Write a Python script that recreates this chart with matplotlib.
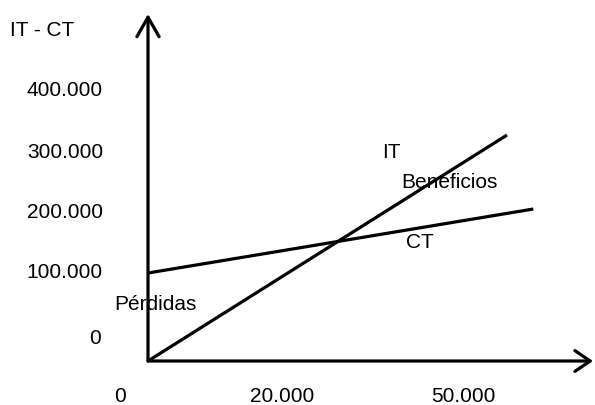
import matplotlib.pyplot as plt

plt.rcParams['font.family'] = ['Liberation Sans', 'DejaVu Sans']

# quantities and values (IT = ingresos totales, CT = costes totales)
q_it = [0, 56100]
it = [0, 256800]
q_ct = [0, 60200]
ct = [100000, 172700]

y_labels = ['0', '100.000', '200.000', '300.000', '400.000']
x_labels = ['0', '20.000', '50.000']

# pixel-ish placement of the hand drawn labels (figure fractions)
W, H = 595, 405
def fpos(px, py):
    return px / W, 1 - py / H

fig = plt.figure(figsize=(5.95, 4.05), dpi=100)
ax = fig.add_axes([0, 0, 1, 1])
ax.set_xlim(-23125, 69843.75)
ax.set_ylim(-50000, 410227)
ax.axis('off')

lw = 2.3
# axes with open arrow heads
ax.annotate('', xy=(0, 394318), xytext=(0, 0),
            arrowprops=dict(arrowstyle='->,head_length=1.4,head_width=0.8',
                            lw=lw, color='black', shrinkA=0, shrinkB=0))
ax.annotate('', xy=(69531, 0), xytext=(0, 0),
            arrowprops=dict(arrowstyle='->,head_length=1.1,head_width=0.75',
                            lw=lw, color='black', shrinkA=0, shrinkB=0))

ax.plot(q_it, it, color='black', lw=lw, solid_capstyle='butt')
ax.plot(q_ct, ct, color='black', lw=lw, solid_capstyle='butt')

fs = 15
ylab_y = [338, 272, 213, 152, 91]
for lab, py in zip(y_labels, ylab_y):
    if lab == '0':
        fig.text(*fpos(95, py), lab, fontsize=fs, ha='center', va='center')
    else:
        fig.text(*fpos(103, py), lab, fontsize=fs, ha='right', va='center')

xlab_x = [120, 282, 463]
for lab, px in zip(x_labels, xlab_x):
    fig.text(*fpos(px, 396), lab, fontsize=fs, ha='center', va='center')

fig.text(*fpos(10, 30), 'IT - CT', fontsize=fs, ha='left', va='center')
fig.text(*fpos(391, 152), 'IT', fontsize=fs, ha='center', va='center')
fig.text(*fpos(449, 183), 'Beneficios', fontsize=fs, ha='center', va='center')
fig.text(*fpos(420, 243), 'CT', fontsize=fs, ha='center', va='center')
fig.text(*fpos(155, 304), 'Pérdidas', fontsize=fs, ha='center', va='center')

fig.savefig('out.png', dpi=100, facecolor='white')
